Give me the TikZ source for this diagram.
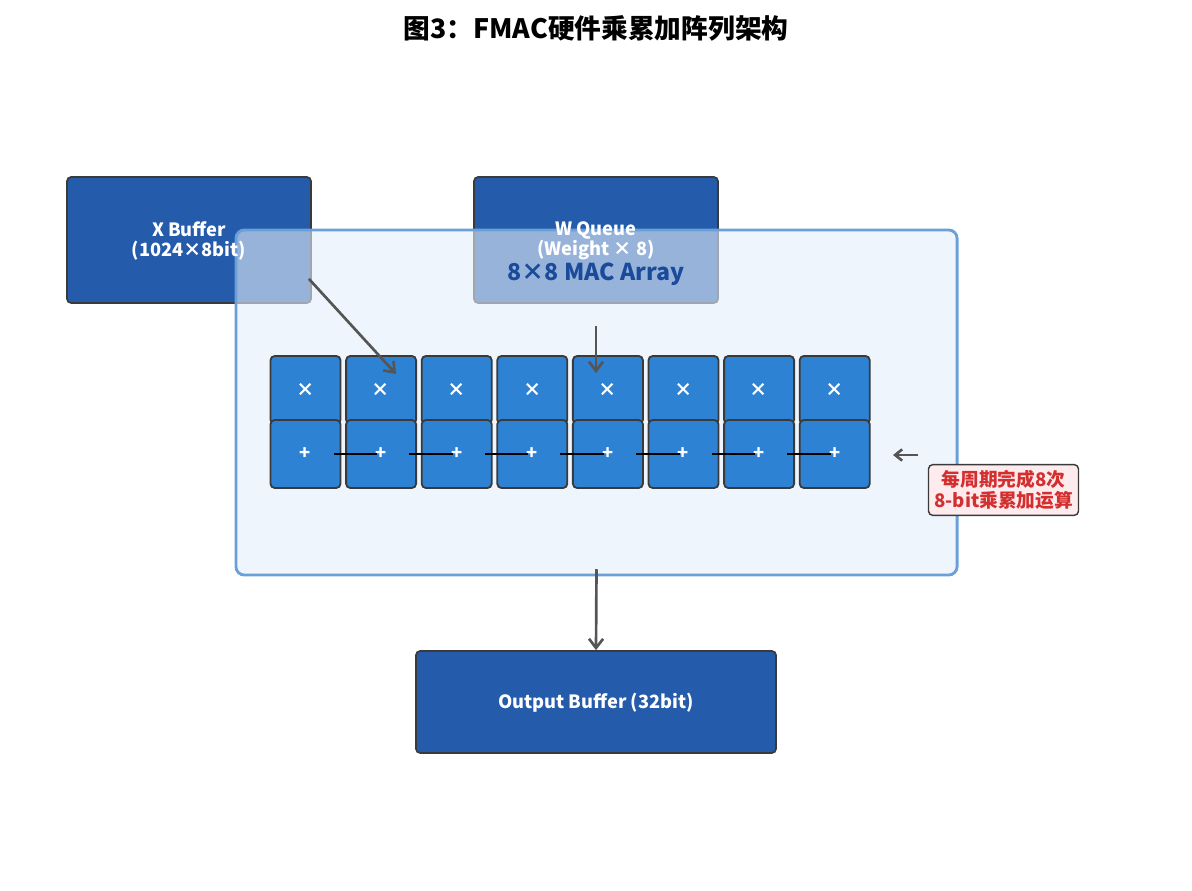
\documentclass[tikz,border=0pt]{standalone}
\usepackage{fontspec}
\setmainfont{Noto Sans CJK SC}
\usetikzlibrary{arrows.meta,positioning}
\definecolor{BufBlue}{HTML}{255BAB}
\definecolor{CellBlue}{HTML}{2E82D4}
\definecolor{ArrFill}{HTML}{E3EEFA}
\definecolor{ArrEdge}{HTML}{6A9FD8}
\definecolor{ArrText}{HTML}{1A4A9A}
\definecolor{EdgeGray}{HTML}{3A3A3A}
\definecolor{ArrowGray}{HTML}{555555}
\definecolor{NoteRed}{HTML}{D32F2F}
\definecolor{NoteFill}{HTML}{FDEBEE}

\begin{document}
\begin{tikzpicture}[x=0.025cm,y=-0.025cm,
    buf/.style={rounded corners=3pt,draw=EdgeGray,line width=1.2pt,
                fill=BufBlue,inner sep=0pt},
    buftext/.style={text=white,align=center,inner sep=0pt,
                    font=\bfseries\fontsize{13}{14.5}\selectfont},
    cell/.style={rounded corners=3pt,draw=EdgeGray,line width=1.3pt,
                 fill=CellBlue,text=white,minimum width=1.75cm,
                 minimum height=1.7cm,inner sep=0pt,
                 font=\bfseries\fontsize{13}{14}\selectfont},
    arrow/.style={-{Straight Barb[length=6.5pt,width=10pt]},ArrowGray,
                  line width=1.9pt},
    note/.style={rounded corners=3pt,draw=EdgeGray,line width=1pt,
                 fill=NoteFill,text=NoteRed,align=center,inner sep=4pt,
                 font=\bfseries\fontsize{13.3}{15}\selectfont}]

    \useasboundingbox (0,0) rectangle (1192,891);

    \node[font=\bfseries\fontsize{19}{22}\selectfont] (title) at (596,28)
      {图3：FMAC硬件乘累加阵列架构};

    % buffers
    \node[buf,minimum width=6.1cm,minimum height=3.15cm] (xbuf) at (189,240) {};
    \node[buf,minimum width=6.1cm,minimum height=3.15cm] (wq) at (596,240) {};
    \node[buf,minimum width=9cm,minimum height=2.55cm] (out) at (596,702) {};

    % MAC array
    \node[rounded corners=6pt,draw=ArrEdge,line width=2pt,fill=ArrFill,
          fill opacity=0.6,minimum width=18.025cm,minimum height=8.625cm]
      (mac) at (596.5,402.5) {};
    \node[text=ArrText,font=\bfseries\fontsize{16.5}{18}\selectfont]
      (maclbl) at (596,274) {8×8 MAC Array};

    \node[buftext] (xbuftxt) at (189,241) {X Buffer\\(1024×8bit)};
    \node[buftext] (wqtxt) at (596,241) {W Queue\\(Weight × 8)};
    \node[buftext] (outtxt) at (596,703) {Output Buffer (32bit)};

    \foreach \i in {1,...,8}{
      \node[cell] (m\i) at ({305.5+75.6*(\i-1)},390) {×};
      \node[cell] (a\i) at ({305.5+75.6*(\i-1)},454) {+};
    }
    \foreach \i [evaluate=\i as \j using int(\i+1)] in {1,...,7}
      \draw[black,line width=0.9pt] ([xshift=0.7cm]a\i.center)
        -- ([xshift=-0.1cm]a\j.center);

    % note
    \node[note] (note) at (1003.5,490)
      {每周期完成8次\\8-bit乘累加运算};

    \coordinate (xIn) at (396,374);
    \coordinate (wIn) at (596,373);
    \coordinate (nTail) at (918,455);
    \coordinate (nHead) at (893,455);

    \draw[arrow] ([shift={(-3,-25)}]xbuf.south east) -- (xIn);
    \draw[arrow] ([yshift=-0.55cm]wq.south) -- (wIn);
    \draw[arrow] ([yshift=0.18cm]mac.south) -- (out.north);
    \draw[arrow,-{Straight Barb[length=5pt,width=8pt]}] (nTail) -- (nHead);
  \end{tikzpicture}
\end{document}
